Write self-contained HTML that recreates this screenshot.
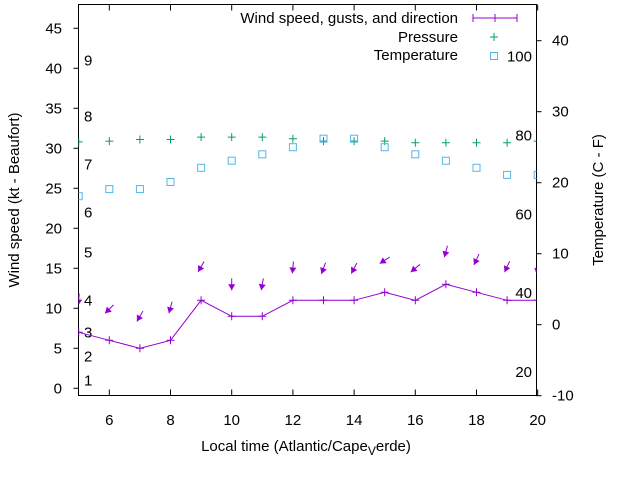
<!DOCTYPE html>
<html><head><meta charset="utf-8"><style>body{margin:0;background:#fff}svg{display:block;font-family:"Liberation Sans",sans-serif}</style></head>
<body>
<svg id="chart" width="640" height="480" xmlns="http://www.w3.org/2000/svg"></svg>
<script>
const hours=[5,6,7,8,9,10,11,12,13,14,15,16,17,18,19,20];
const windSpeed=[7,6,5,6,11,9,9,11,11,11,12,11,13,12,11,11];
const gusts=[11.1,9.9,9,10.1,15.2,13,13,15.1,15,15,16,15,17.1,16.1,15.2,15];
const windDir=[5,45,30,15,30,0,10,5,20,28,57,50,15,25,25,10];
const pressure=[30.8,30.9,31.1,31.1,31.4,31.4,31.4,31.2,30.9,30.9,30.9,30.7,30.7,30.7,30.7,30.9];
const tempC=[18.1,19.1,19.1,20.1,22.1,23.1,24.0,25.0,26.2,26.2,25.0,24.0,23.1,22.1,21.1,21.1];
const xTicks=[6,8,10,12,14,16,18,20];
const yTicks=[0,5,10,15,20,25,30,35,40,45];
const y2Ticks=[-10,0,10,20,30,40];
const beaufort=[1,4,7,11,17,22,28,34,41];
const fTicks=[20,40,60,80,100];
const L=78.5,R=536.5,T=4.5,B=395.5;
const X=h=>78.7+(h-5)*30.6;
const Y=v=>388.3-v*8;
const Y2=c=>40.7+(40-c)*7.1;
const svg=document.getElementById('chart');
const NS='http://www.w3.org/2000/svg';
function el(tag,attrs,parent){const e=document.createElementNS(NS,tag);for(const k in attrs)e.setAttribute(k,attrs[k]);(parent||svg).appendChild(e);return e;}
function txt(s,x,y,anchor,parent,size){const t=el('text',{x:x,y:y,'text-anchor':anchor||'middle','font-size':size||14,fill:'#000'},parent);t.textContent=s;return t;}
const axes=el('g',{});


el('rect',{x:L,y:T,width:R-L,height:B-T,fill:'none',stroke:'#000','stroke-width':1},axes);
xTicks.forEach(h=>{const x=X(h);el('line',{x1:x,y1:B,x2:x,y2:B-6,stroke:'#000'},axes);el('line',{x1:x,y1:T,x2:x,y2:T+6,stroke:'#000'},axes);
 const t=txt(String(h),x,425,'middle',axes,15);});
yTicks.forEach(v=>{const y=Y(v);el('line',{x1:L,y1:y,x2:L-5,y2:y,stroke:'#000'},axes);
 const t=txt(String(v),62,y+5,'end',axes,15);});
y2Ticks.forEach(c=>{const y=Y2(c);el('line',{x1:R,y1:y,x2:R+5,y2:y,stroke:'#000'},axes);
 const t=txt(String(c),552,y+5,'start',axes,15);});
beaufort.forEach((kt,i)=>{const t=txt(String(i+1),84,Y(kt)+5,'start',axes,15);});
fTicks.forEach(f=>{const t=txt(String(f),532,Y2((f-32)*5/9)+5,'end',axes,15);});
let t=txt('Wind speed (kt - Beaufort)',0,0,'middle',axes,15);t.setAttribute('transform','translate(19,200) rotate(-90)');

t=txt('Temperature (C - F)',0,0,'middle',axes,15);t.setAttribute('transform','translate(603,200) rotate(-90)');

t=el('text',{x:306,y:451,'text-anchor':'middle','font-size':15},axes);
t.innerHTML='Local time (Atlantic/Cape<tspan dy="4" font-size="12">V</tspan><tspan dy="-4">erde)</tspan>';

const clip=el('clipPath',{id:'c'});el('rect',{x:L,y:T,width:R-L,height:B-T},clip);
const plot=el('g',{'clip-path':'url(#c)'});
const P='#9400d3';
const wl=el('polyline',{points:hours.map((h,i)=>X(h)+','+Y(windSpeed[i])).join(' '),fill:'none',stroke:P,'stroke-width':1},plot);

hours.forEach((h,i)=>{const x=X(h),y=Y(windSpeed[i]);el('path',{d:`M${x-4},${y}h8M${x},${y-4}v8`,stroke:P},plot);
 const a=windDir[i]*Math.PI/180,dx=Math.sin(a),dy=-Math.cos(a),len=12;const cx=X(h),cy=Y(gusts[i]);
 const tx=cx+dx*len/2,ty=cy+dy*len/2,hx=cx-dx*len/2,hy=cy-dy*len/2;
 const g=el('g',{},plot);
 el('line',{x1:tx,y1:ty,x2:hx,y2:hy,stroke:P,'stroke-width':1},g);
 const px=-dy,py=dx;el('polygon',{points:`${hx},${hy} ${hx+dx*6+px*3.5},${hy+dy*6+py*3.5} ${hx+dx*6-px*3.5},${hy+dy*6-py*3.5}`,fill:P},g);});
const G='#009e73';
hours.forEach((h,i)=>{const x=X(h),y=Y(pressure[i]);const p=el('path',{d:`M${x-4},${y}h8M${x},${y-4}v8`,stroke:G,'stroke-width':1},plot);
 });
const C='#56b4e9';
hours.forEach((h,i)=>{const x=X(h),y=Y2(tempC[i]);const r=el('rect',{x:x-3.5,y:y-3.5,width:7,height:7,fill:'none',stroke:C,'stroke-width':1},plot);
 });
const lg=el('g',{});
txt('Wind speed, gusts, and direction',458,23,'end',lg,15);
el('path',{d:'M473,18h44M473,14v8M517,14v8M495,14v8',stroke:P},lg);
txt('Pressure',458,42,'end',lg,15);
el('path',{d:'M490,37h8M494,33v8',stroke:G},lg);
txt('Temperature',458,60,'end',lg,15);
el('rect',{x:490.5,y:52.5,width:7,height:7,fill:'none',stroke:C},lg);
</script>
</body></html>
